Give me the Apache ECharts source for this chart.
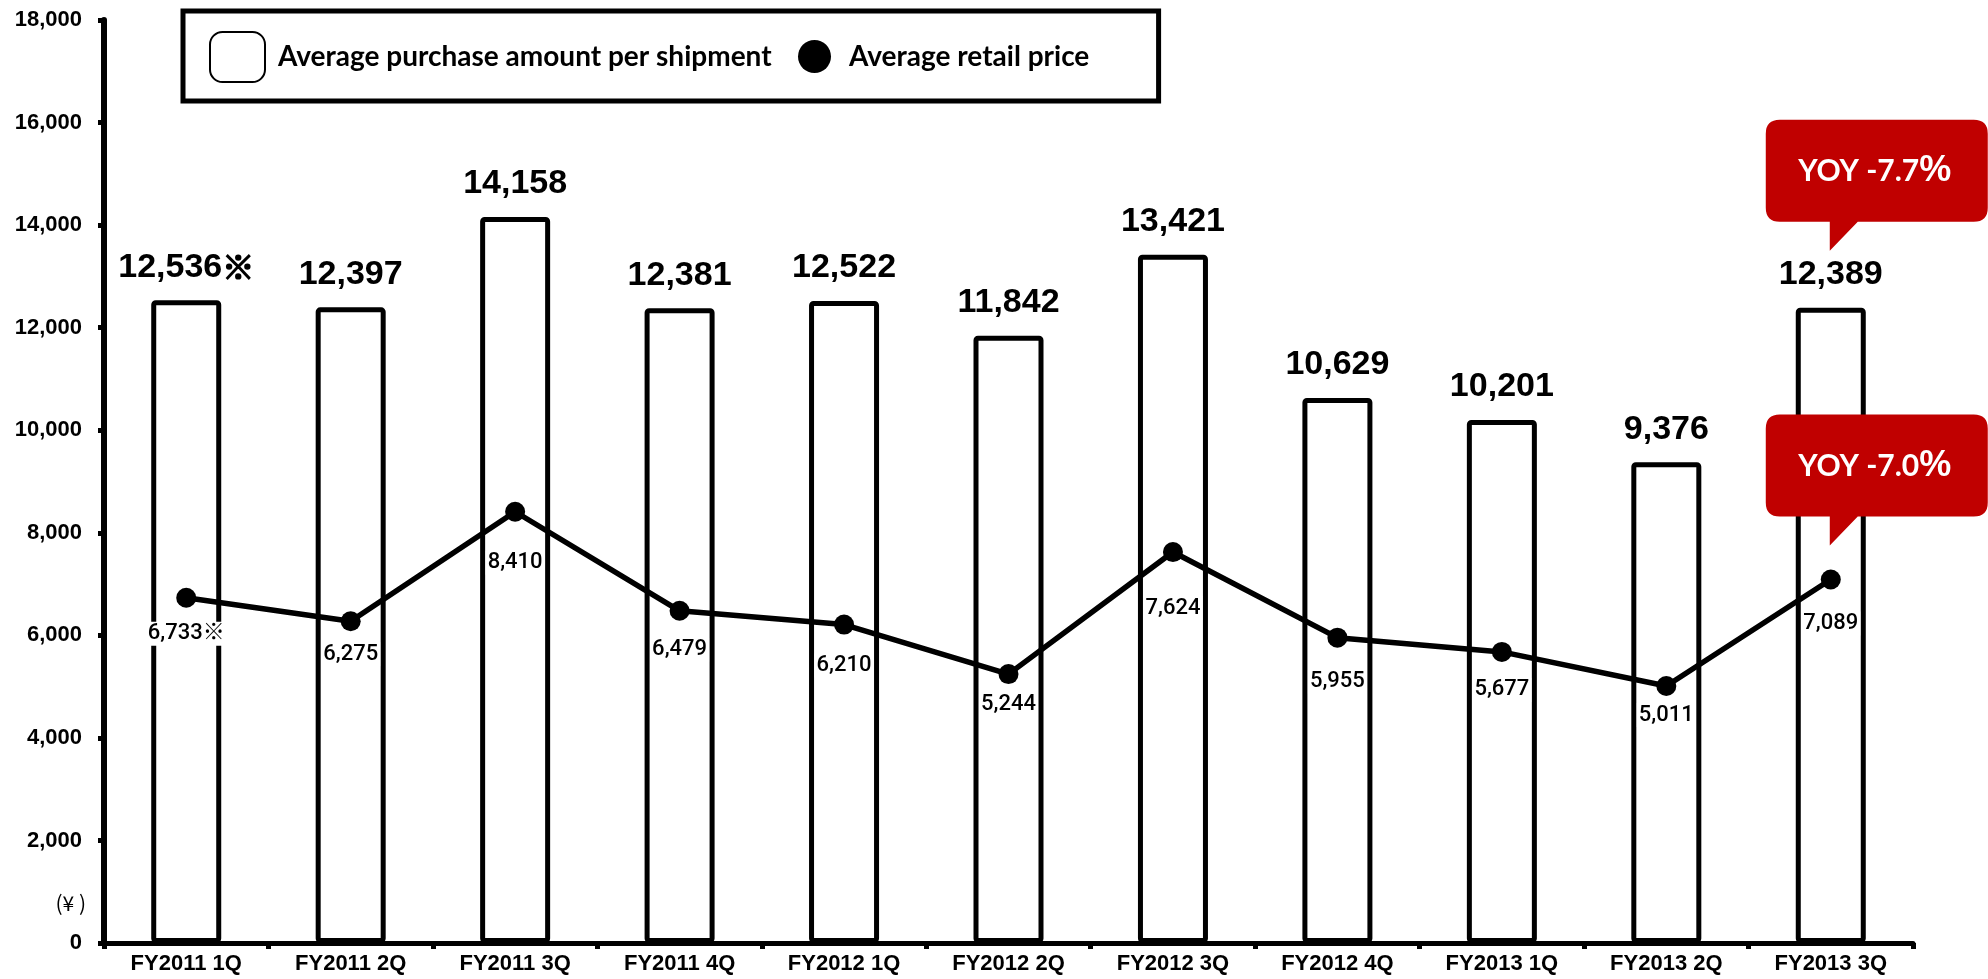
<!DOCTYPE html>
<html>
<head>
<meta charset="utf-8">
<script src="https://cdn.jsdelivr.net/npm/echarts@6/dist/echarts.min.js"></script>
<style>
  html, body { margin: 0; padding: 0; background: #fff; }
  #chart { width: 1988px; height: 979px; }
</style>
</head>
<body>
<div id="chart"></div>
<script>
// Quarterly figures (yen)
const categories = ['FY2011 1Q', 'FY2011 2Q', 'FY2011 3Q', 'FY2011 4Q', 'FY2012 1Q', 'FY2012 2Q',
                    'FY2012 3Q', 'FY2012 4Q', 'FY2013 1Q', 'FY2013 2Q', 'FY2013 3Q'];
const purchasePerShipment = [12536, 12397, 14158, 12381, 12522, 11842, 13421, 10629, 10201, 9376, 12389];
const retailPrice = [6733, 6275, 8410, 6479, 6210, 5244, 7624, 5955, 5677, 5011, 7089];
const valueNotes = ['※', '', '', '', '', '', '', '', '', '', ''];
const seriesNames = ['Average purchase amount per shipment', 'Average retail price'];

// Extra gap under each retail-price point so its label clears the line
const retailLabelGap = [14, 11, 29, 17, 19, 8, 34, 22, 16, 7, 22];

const FONT = "'Liberation Sans', 'Noto Sans CJK JP', sans-serif";
const CJK = "'Noto Sans CJK JP', sans-serif";
const LEGEND_FONT = "Lato, 'Noto Sans', sans-serif";
const RED = '#C00000';

const fmt = v => v.toLocaleString('en-US');
const withNote = i => valueNotes[i] ? '{n|' + valueNotes[i] + '}' : '';

// Year-over-year change of the latest quarter against the same quarter a year earlier
const last = categories.length - 1;
const yoy = arr => ((arr[last] / arr[last - 4] - 1) * 100).toFixed(1);

// Speech-bubble outline: rounded box with a tail hanging from its lower left
const bubblePath = 'path://M14,0 H208 Q222,0 222,14 V88 Q222,102 208,102 H92 L64,131 L64,102 H14 Q0,102 0,88 V14 Q0,0 14,0 Z';

function bubble(idx, value, text, offset) {
  return {
    coord: [idx, value],
    symbol: bubblePath,
    symbolSize: [222, 131],
    symbolOffset: offset,
    itemStyle: { color: RED },
    label: {
      show: true,
      position: 'inside',
      offset: [-2, -14],
      formatter: '{a|YOY ' + text + '}{b|%}',
      rich: {
        a: { color: '#fff', fontFamily: LEGEND_FONT, fontWeight: 'bold', fontSize: 30 },
        b: { color: '#fff', fontFamily: FONT, fontWeight: 'bold', fontSize: 36 }
      }
    }
  };
}

const legendText = {
  fontFamily: LEGEND_FONT, fontWeight: 'bold', fontSize: 28, color: '#000',
  rich: { g: { width: 8 }, t: { fontFamily: LEGEND_FONT, fontWeight: 'bold', fontSize: 28, color: '#000' } }
};

const chart = echarts.init(document.getElementById('chart'), null, { renderer: 'canvas' });

chart.setOption({
  backgroundColor: '#fff',
  animation: false,
  grid: { left: 104, right: 75, top: 20, bottom: 36, containLabel: false },
  legend: [
    {
      data: [{ name: seriesNames[0], icon: 'roundRect' }],
      left: 183,
      top: 11,
      orient: 'horizontal',
      itemWidth: 55,
      itemHeight: 50,
      padding: [20, 387, 18, 26],
      borderColor: '#000',
      borderWidth: 5,
      borderRadius: 0,
      selectedMode: false,
      formatter: name => '{g|}{t|' + name + '}',
      textStyle: legendText
    },
    {
      data: [{ name: seriesNames[1], icon: 'circle' }],
      left: 798,
      top: 40,
      itemWidth: 33,
      itemHeight: 33,
      padding: 0,
      selectedMode: false,
      itemStyle: { color: '#000', borderWidth: 0 },
      formatter: name => '{g|}{t|' + name + '}',
      textStyle: Object.assign({}, legendText, { rich: { g: { width: 13 }, t: legendText.rich.t } })
    }
  ],
  xAxis: {
    type: 'category',
    data: categories,
    axisLine: { lineStyle: { color: '#000', width: 5 } },
    axisTick: { show: true, length: 6, lineStyle: { color: '#000', width: 5 } },
    axisLabel: { color: '#000', fontFamily: FONT, fontWeight: 'bold', fontSize: 22, margin: 10 }
  },
  yAxis: {
    type: 'value',
    min: 0,
    max: 18000,
    interval: 2000,
    name: '(¥ )',
    nameLocation: 'start',
    nameGap: -50,
    nameTextStyle: { color: '#000', fontFamily: CJK, fontSize: 21, align: 'right', padding: [0, 18, 0, 0] },
    splitLine: { show: false },
    axisLine: { show: true, lineStyle: { color: '#000', width: 6 } },
    axisTick: { show: true, length: 6, lineStyle: { color: '#000', width: 5 } },
    axisLabel: { color: '#000', fontFamily: FONT, fontWeight: 'bold', fontSize: 22, margin: 22, formatter: fmt }
  },
  series: [
    {
      name: seriesNames[0],
      type: 'bar',
      data: purchasePerShipment,
      barWidth: 70,
      itemStyle: { color: '#fff', borderColor: '#000', borderWidth: 5, borderRadius: 2 },
      label: {
        show: true,
        position: 'top',
        distance: 14,
        color: '#000',
        fontFamily: FONT,
        fontWeight: 'bold',
        fontSize: 34,
        lineHeight: 38,
        formatter: p => fmt(p.value) + withNote(p.dataIndex),
        rich: {
          n: { fontFamily: CJK, fontWeight: 'bold', fontSize: 32, lineHeight: 38, color: '#000',
               textBorderColor: '#000', textBorderWidth: 1.6 }
        }
      },
      markPoint: {
        z: 10,
        data: [bubble(last, purchasePerShipment[last], yoy(purchasePerShipment), [46, -122.5])]
      }
    },
    {
      name: seriesNames[1],
      type: 'line',
      data: retailPrice.map((v, i) => ({ value: v, label: { distance: retailLabelGap[i] } })),
      symbol: 'circle',
      symbolSize: 20,
      lineStyle: { color: '#000', width: 5.5 },
      itemStyle: { color: '#000' },
      z: 3,
      label: {
        show: true,
        position: 'bottom',
        color: '#000',
        fontFamily: "Roboto, 'Noto Sans CJK JP', sans-serif",
        fontWeight: 500,
        fontSize: 22,
        backgroundColor: '#fff',
        padding: [1, 2],
        formatter: p => fmt(p.value) + valueNotes[p.dataIndex]
      },
      markPoint: {
        z: 10,
        data: [bubble(last, retailPrice[last], yoy(retailPrice), [46, -99.5])]
      }
    }
  ]
});
</script>
</body>
</html>
